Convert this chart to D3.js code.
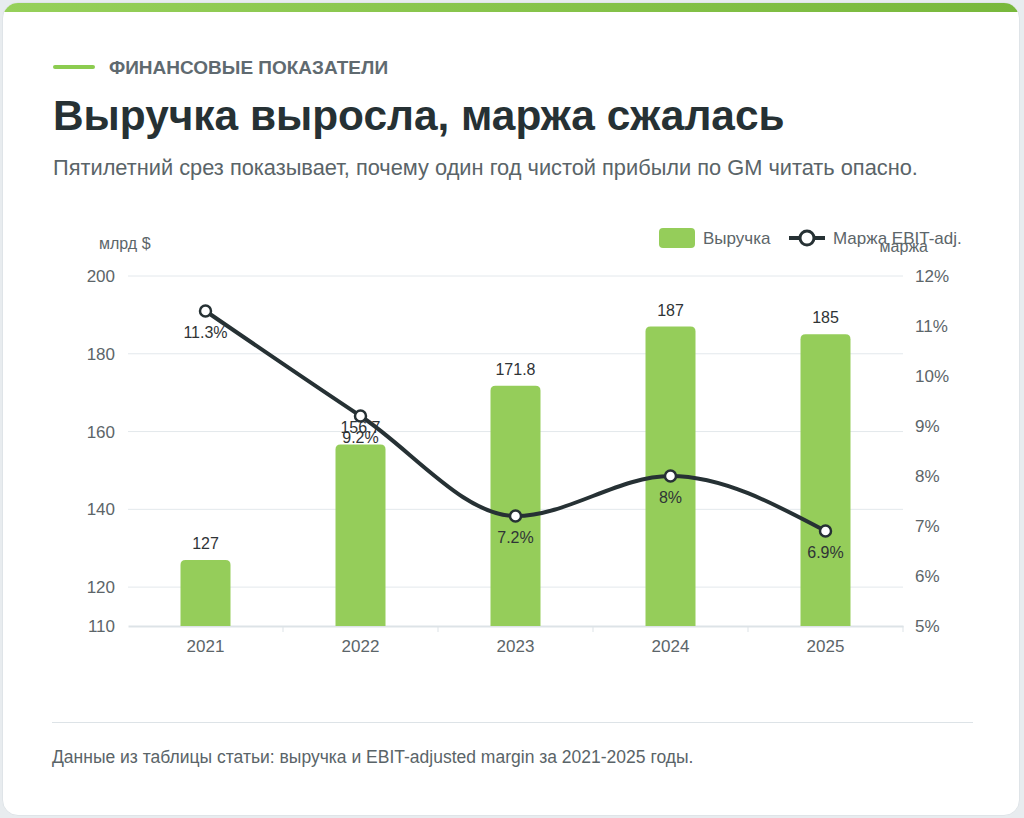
<!DOCTYPE html>
<html>
<head>
<meta charset="utf-8">
<script src="https://cdn.jsdelivr.net/npm/d3@7"></script>
<style>
  body { margin: 0; background: #e8ecef; font-family: "Liberation Sans", Arial, sans-serif; }
  .card {
    position: absolute; left: 2px; top: 2px; width: 1016px; height: 812px;
    background: #fff; border: 1px solid #dfe4e8; border-radius: 16px; overflow: hidden;
  }
  .topbar { position: absolute; left: 0; top: 0; width: 100%; height: 9px;
    background: linear-gradient(90deg, #96d05a, #78b83c); }
  .kicker { position: absolute; left: 50px; top: 54px; font-size: 19px; font-weight: bold; color: #5f6a70; }
  .kicker:before { content: ""; display: inline-block; width: 42px; height: 4px; border-radius: 2px;
    background: #8ccc50; vertical-align: middle; margin-right: 14px; position: relative; top: -2px; }
  h1 { position: absolute; left: 50px; top: 89px; margin: 0; font-size: 42.4px; font-weight: bold; color: #263134; }
  .sub { position: absolute; left: 50px; top: 152px; font-size: 21.8px; color: #5a6468; }
  .foot { position: absolute; left: 49px; top: 744px; font-size: 17.5px; color: #5a6468; }
  .rule { position: absolute; left: 49px; top: 719px; width: 921px; height: 1px; background: #dde3e7; }
  svg { position: absolute; left: 0; top: 0; }
</style>
</head>
<body>
<div class="card">
  <div class="topbar"></div>
  <div class="kicker">ФИНАНСОВЫЕ ПОКАЗАТЕЛИ</div>
  <h1>Выручка выросла, маржа сжалась</h1>
  <div class="sub">Пятилетний срез показывает, почему один год чистой прибыли по GM читать опасно.</div>
  <svg id="chart" width="1016" height="812"></svg>
  <div class="rule"></div>
  <div class="foot">Данные из таблицы статьи: выручка и EBIT-adjusted margin за 2021-2025 годы.</div>
</div>
<script>
const years = ["2021", "2022", "2023", "2024", "2025"];
const revenue = [127, 156.7, 171.8, 187, 185];
const margin = [11.3, 9.2, 7.2, 8, 6.9];
const revTicks = [110, 120, 140, 160, 180, 200];
const marginTicks = [5, 6, 7, 8, 9, 10, 11, 12];

// card is offset by 2px + border 1px
const ox = -3, oy = -3;
const plotL = 128 + ox, plotR = 903 + ox, plotT = 276 + oy, plotB = 626 + oy;
const font = "Liberation Sans, Arial, sans-serif";

const svg = d3.select("#chart");
const g = svg.append("g").style("font-family", font);

const x = d3.scaleBand().domain(years).range([plotL, plotR]);
const y = d3.scaleLinear().domain([110, 200]).range([plotB, plotT]);
const y2 = d3.scaleLinear().domain([5, 12]).range([plotB, plotT]);

// grid
g.selectAll(".grid").data(revTicks.filter(d => d !== 110)).enter().append("line")
  .attr("x1", plotL).attr("x2", plotR)
  .attr("y1", d => y(d)).attr("y2", d => y(d))
  .attr("stroke", "#e3e8ec").attr("stroke-width", 1);

// left axis
const yAxis = g.append("g").attr("transform", `translate(${plotL},0)`)
  .call(d3.axisLeft(y).tickValues(revTicks).tickSize(0).tickPadding(13));
yAxis.select(".domain").remove();
yAxis.selectAll("text").attr("fill", "#5c6569").style("font-size", "17px").style("font-family", font);

// right axis
const y2Axis = g.append("g").attr("transform", `translate(${plotR},0)`)
  .call(d3.axisRight(y2).tickValues(marginTicks).tickSize(0).tickPadding(12).tickFormat(d => d + "%"));
y2Axis.select(".domain").remove();
y2Axis.selectAll("text").attr("fill", "#5c6569").style("font-size", "17px").style("font-family", font);

// x axis
const xAxis = g.append("g").attr("transform", `translate(0,${plotB})`)
  .call(d3.axisBottom(x).tickSize(0).tickPadding(14));
xAxis.select(".domain").attr("stroke", "#dde3e7").attr("stroke-width", 2);
xAxis.selectAll("text").attr("fill", "#5c6569").style("font-size", "17px").style("font-family", font);
g.selectAll(".xsep").data(years.slice(1).concat(["end"])).enter().append("line")
  .attr("x1", (d, i) => plotL + (i + 1) * x.step()).attr("x2", (d, i) => plotL + (i + 1) * x.step())
  .attr("y1", plotB).attr("y2", plotB + 6)
  .attr("stroke", "#dde3e7");

// axis titles
g.append("text").attr("x", 99 + ox).attr("y", 249 + oy).text("млрд $")
  .attr("fill", "#5c6569").style("font-size", "16px");
g.append("text").attr("x", 928 + ox).attr("y", 252 + oy).attr("text-anchor", "end").text("маржа")
  .attr("fill", "#5c6569").style("font-size", "16px");

// bars with rounded top corners
const bw = 50, r = 5;
g.selectAll(".bar").data(revenue).enter().append("path")
  .attr("fill", "#95cd5a")
  .attr("d", (d, i) => {
    const cx = x(years[i]) + x.bandwidth() / 2, x0 = cx - bw / 2, x1 = cx + bw / 2;
    const yt = y(d), yb = plotB;
    return `M${x0},${yb}V${yt + r}Q${x0},${yt} ${x0 + r},${yt}H${x1 - r}Q${x1},${yt} ${x1},${yt + r}V${yb}Z`;
  });

g.selectAll(".barlab").data(revenue).enter().append("text")
  .attr("x", (d, i) => x(years[i]) + x.bandwidth() / 2)
  .attr("y", d => y(d) - 11)
  .attr("text-anchor", "middle").attr("fill", "#2f3436").style("font-size", "16px")
  .text(d => d);

// margin line
const line = d3.line()
  .x((d, i) => x(years[i]) + x.bandwidth() / 2)
  .y(d => y2(d))
  .curve(d3.curveMonotoneX);
g.append("path").datum(margin).attr("d", line)
  .attr("fill", "none").attr("stroke", "#263134").attr("stroke-width", 4);

g.selectAll(".dot").data(margin).enter().append("circle")
  .attr("cx", (d, i) => x(years[i]) + x.bandwidth() / 2)
  .attr("cy", d => y2(d)).attr("r", 5.5)
  .attr("fill", "#fff").attr("stroke", "#263134").attr("stroke-width", 2.5);

g.selectAll(".mlab").data(margin).enter().append("text")
  .attr("x", (d, i) => x(years[i]) + x.bandwidth() / 2)
  .attr("y", d => y2(d) + 27)
  .attr("text-anchor", "middle").attr("fill", "#2f3436").style("font-size", "16px")
  .text(d => d + "%");

// legend
const lg = g.append("g").attr("transform", `translate(${ox},${oy})`);
lg.append("rect").attr("x", 659).attr("y", 228).attr("width", 36).attr("height", 20).attr("rx", 4)
  .attr("fill", "#95cd5a");
lg.append("text").attr("x", 703).attr("y", 244).text("Выручка").attr("fill", "#5c6569").style("font-size", "17px");
lg.append("line").attr("x1", 789).attr("x2", 825).attr("y1", 238).attr("y2", 238)
  .attr("stroke", "#263134").attr("stroke-width", 4);
lg.append("circle").attr("cx", 807).attr("cy", 238).attr("r", 7)
  .attr("fill", "#fff").attr("stroke", "#263134").attr("stroke-width", 3);
lg.append("text").attr("x", 833).attr("y", 244).text("Маржа EBIT-adj.").attr("fill", "#5c6569").style("font-size", "17px");
</script>
</body>
</html>
